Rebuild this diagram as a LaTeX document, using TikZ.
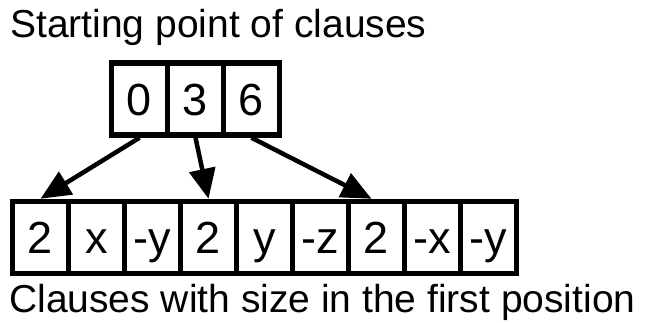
\documentclass[tikz,border=0pt]{standalone}
\usepackage{fontspec}
\setmainfont{Liberation Sans}
\usetikzlibrary{arrows.meta}
\begin{document}
\begin{tikzpicture}[x=1pt,y=-1pt,
  cell/.style={draw, line width=5.5pt, minimum width=56pt, minimum height=72pt,
    inner sep=0pt, text height=32pt, text depth=0pt,
    font=\fontsize{45}{45}\selectfont},
  lbl/.style={anchor=base west, inner sep=0pt, font=\fontsize{39}{39}\selectfont},
  ptr/.style={line width=4.5pt, -{Triangle[length=30pt,width=26pt]}}]
\useasboundingbox (0,0) rectangle (645,322);
\node[lbl] (title) at (10,37) {Starting point of clauses};
\node[lbl] (caption) at (9,312) {Clauses with size in the first position};
\foreach \t [count=\i from 0] in {0,3,6}
  \node[cell] (t\i) at (139.5+56*\i,99) {\t};
\foreach \t [count=\i from 0] in {2,x,-y,2,y,-z,2,-x,-y}
  \node[cell] (b\i) at (40.5+56*\i,237.5) {\t};
\draw[ptr] (t0.south) -- (b0.north);
\draw[ptr] (t1.south) -- (b3.north);
\draw[ptr] (t2.south) -- ([xshift=-5pt]b6.north);
\end{tikzpicture}
\end{document}
